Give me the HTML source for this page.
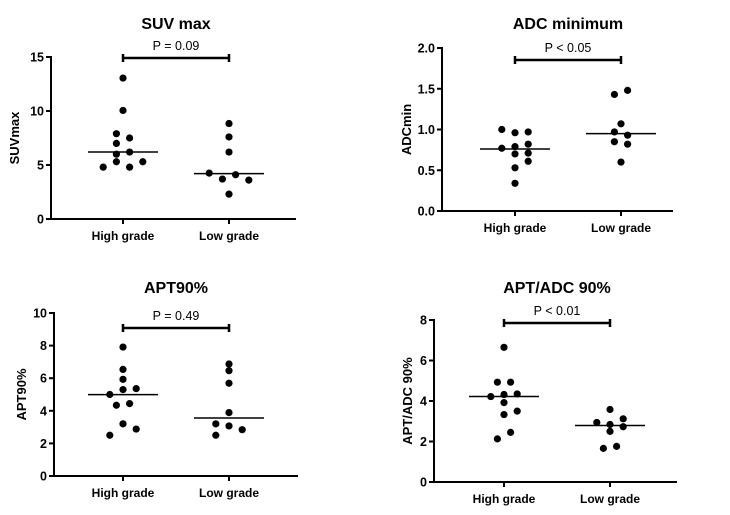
<!DOCTYPE html>
<html><head><meta charset="utf-8"><style>
body{margin:0;background:#fff}
svg{display:block;font-family:"Liberation Sans",Arial,sans-serif}
</style></head><body>
<svg id="c" width="730" height="515"></svg>
<script>
const categories=["High grade","Low grade"];
const suvHigh=[13.05,10.05,7.9,7.5,7.0,6.0,6.2,5.3,4.8,4.8,5.3];
const suvHighCol=[0,0,-1,1,-1,-1,1,-1,-3,1,3];
const suvLow=[8.84,7.6,6.2,4.25,4.1,3.7,3.6,2.3];
const suvLowCol=[0,0,0,-3,1,-1,3,0];
const suvMed=[6.2,4.2];
const adcHigh=[1.0,0.96,0.97,0.77,0.79,0.82,0.70,0.71,0.61,0.53,0.34];
const adcHighCol=[-2,0,2,-2,0,2,0,2,2,0,0];
const adcLow=[1.43,1.48,1.07,0.97,0.93,0.85,0.82,0.60];
const adcLowCol=[-1,1,0,-1,1,-1,1,0];
const adcMed=[0.76,0.95];
const aptHigh=[7.91,6.54,5.93,5.3,5.36,5.0,4.34,4.44,3.2,2.88,2.5];
const aptHighCol=[0,0,0,0,2,-2,-1,1,0,2,-2];
const aptLow=[6.87,6.46,5.69,3.89,3.2,3.07,2.84,2.5];
const aptLowCol=[0,0,0,0,-2,0,2,-2];
const aptMed=[4.99,3.56];
const ratioHigh=[6.65,4.93,4.93,4.22,4.32,4.35,3.92,3.33,3.5,2.45,2.13];
const ratioHighCol=[0,-1,1,-2,0,2,0,0,2,1,-1];
const ratioLow=[3.58,2.94,2.84,3.12,2.5,2.73,1.66,1.76];
const ratioLowCol=[0,-2,0,2,0,2,-1,1];
const ratioMed=[4.22,2.79];
const suvTicks=["0","5","10","15"],adcTicks=["0.0","0.5","1.0","1.5","2.0"],aptTicks=["0","2","4","6","8","10"],ratioTicks=["0","2","4","6","8"];

const NS="http://www.w3.org/2000/svg";const svg=document.getElementById('c');
function mk(t,a,p){const e=document.createElementNS(NS,t);for(const k in a)e.setAttribute(k,a[k]);(p||svg).appendChild(e);return e;}
function panel(o){
 const g=mk('g',{});
 
 
 const max=parseFloat(o.ticks[o.ticks.length-1]);
 const y=v=>o.y0+(o.y1-o.y0)*v/max;
 const xc=[o.cx0,o.cx1];
 let t=mk('text',{x:(o.cx0+o.cx1)/2,y:o.ty,'text-anchor':'middle','font-size':16,'font-weight':'bold'},g);t.textContent=o.title;
 
 const ax=mk('path',{d:`M${o.ax},${o.y1-1}V${o.y0}H${o.xe}`,stroke:'#000','stroke-width':2,fill:'none'},g);
 
 o.ticks.forEach(s=>{const v=parseFloat(s);mk('line',{x1:o.ax-5,x2:o.ax,y1:y(v),y2:y(v),stroke:'#000','stroke-width':2},g);
  const l=mk('text',{x:o.ax-7,y:y(v)+4.5,'text-anchor':'end','font-size':12.5,'font-weight':'bold'},g);l.textContent=s;
  });
 categories.forEach((c,i)=>{mk('line',{x1:xc[i],x2:xc[i],y1:o.y0,y2:o.y0+5,stroke:'#000','stroke-width':2},g);
  const l=mk('text',{x:xc[i],y:o.y0+21,'text-anchor':'middle','font-size':12,'font-weight':'bold'},g);l.textContent=c;
  });
 const yt=mk('text',{transform:`translate(${o.ax-o.yl},${(o.y0+o.y1)/2}) rotate(-90)`,'text-anchor':'middle','font-size':13,'font-weight':'bold'},g);yt.textContent=o.ylab;
 
 [[o.hi,o.hiC],[o.lo,o.loC]].forEach((s,i)=>{s[0].forEach((v,j)=>{const d=mk('circle',{cx:xc[i]+s[1][j]*6.6,cy:y(v),r:3.6,fill:'#000'},g);
  });
  const m=mk('line',{x1:xc[i]-35,x2:xc[i]+35,y1:y(o.med[i]),y2:y(o.med[i]),stroke:'#000','stroke-width':1.5},g);
  });
 const b=mk('path',{d:`M${o.cx0},${o.by-4}V${o.by+4}M${o.cx0},${o.by}H${o.cx1}M${o.cx1},${o.by-4}V${o.by+4}`,stroke:'#000','stroke-width':2.5,fill:'none'},g);
 
 const p=mk('text',{x:(o.cx0+o.cx1)/2,y:o.by-8,'text-anchor':'middle','font-size':12.5},g);p.textContent=o.p;
 
}
panel({name:'suv-max-panel',title:'SUV max',ylab:'SUVmax',yl:32,ticks:suvTicks,ax:51,xe:296,y0:219,y1:57,cx0:123,cx1:229,ty:29,by:58,p:'P = 0.09',hi:suvHigh,hiC:suvHighCol,lo:suvLow,loC:suvLowCol,med:suvMed});
panel({name:'adc-min-panel',title:'ADC minimum',ylab:'ADCmin',yl:31,ticks:adcTicks,ax:442,xe:673,y0:211,y1:48,cx0:515,cx1:621,ty:29,by:60,p:'P < 0.05',hi:adcHigh,hiC:adcHighCol,lo:adcLow,loC:adcLowCol,med:adcMed});
panel({name:'apt90-panel',title:'APT90%',ylab:'APT90%',yl:28,ticks:aptTicks,ax:54,xe:298,y0:476,y1:313,cx0:123,cx1:229,ty:293,by:328,p:'P = 0.49',hi:aptHigh,hiC:aptHighCol,lo:aptLow,loC:aptLowCol,med:aptMed});
panel({name:'apt-adc-panel',title:'APT/ADC 90%',ylab:'APT/ADC 90%',yl:22,ticks:ratioTicks,ax:434,xe:677,y0:482,y1:320,cx0:504,cx1:610,ty:293,by:323,p:'P < 0.01',hi:ratioHigh,hiC:ratioHighCol,lo:ratioLow,loC:ratioLowCol,med:ratioMed});
</script>
</body></html>
